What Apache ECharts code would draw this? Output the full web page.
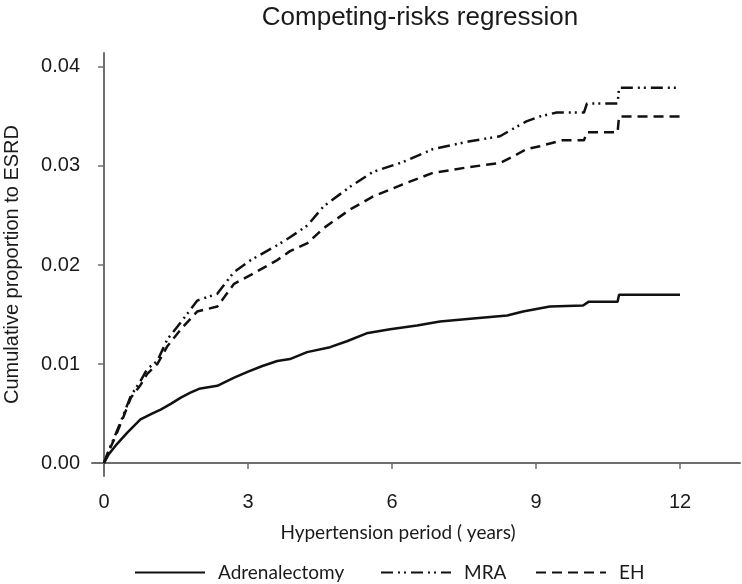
<!DOCTYPE html>
<html>
<head>
<meta charset="utf-8">
<script src="https://cdn.jsdelivr.net/npm/echarts@6/dist/echarts.min.js"></script>
<style>
html,body{margin:0;padding:0;background:#fff;}
#chart{width:742px;height:584px;}
</style>
</head>
<body>
<div id="chart"></div>
<script>
const seriesNames = ['Adrenalectomy', 'MRA', 'EH'];
const xTicks = [0, 3, 6, 9, 12];
const yTicks = [0, 0.01, 0.02, 0.03, 0.04];

const adrenalectomy = [[0,0],[0.1,0.0009],[0.25,0.0018],[0.49,0.0031],[0.76,0.0044],[1.0,0.0050],[1.18,0.0054],[1.4,0.0060],[1.6,0.0066],[1.8,0.0071],[1.98,0.0075],[2.36,0.0078],[2.7,0.0086],[2.99,0.0092],[3.3,0.0098],[3.61,0.0103],[3.875,0.0105],[4.23,0.0112],[4.71,0.0117],[5.06,0.0123],[5.47,0.0131],[5.96,0.0135],[6.52,0.0139],[7.0,0.0143],[7.69,0.0146],[8.4,0.0149],[8.73,0.0153],[9.29,0.0158],[9.98,0.0159],[10.1,0.0163],[10.7,0.0163],[10.73,0.0170],[12,0.0170]];

const mra = [[0,0],[0.1,0.0013],[0.25,0.0030],[0.4,0.0048],[0.56,0.0068],[0.75,0.0082],[0.9,0.0095],[1.11,0.0103],[1.32,0.0125],[1.6,0.0142],[1.94,0.0164],[2.36,0.0171],[2.71,0.0193],[3.06,0.0205],[3.61,0.0220],[3.875,0.0228],[4.24,0.0240],[4.57,0.0259],[5.125,0.0279],[5.6,0.0294],[6.23,0.0304],[6.85,0.0317],[7.625,0.0325],[8.25,0.0330],[8.5,0.0337],[8.8,0.0345],[9.08,0.0350],[9.43,0.0354],[10.0,0.0354],[10.06,0.0363],[10.7,0.0363],[10.73,0.0379],[12,0.0379]];

const eh = [[0,0],[0.1,0.0012],[0.25,0.0028],[0.4,0.0046],[0.56,0.0066],[0.75,0.0078],[0.9,0.0090],[1.11,0.0100],[1.32,0.0118],[1.6,0.0135],[1.94,0.0153],[2.36,0.0158],[2.71,0.0181],[3.06,0.0190],[3.61,0.0205],[3.875,0.0214],[4.24,0.0222],[4.57,0.0237],[5.125,0.0256],[5.6,0.0269],[6.2,0.0281],[6.85,0.0293],[7.625,0.0299],[8.25,0.0303],[8.5,0.0309],[8.8,0.0317],[9.08,0.0320],[9.56,0.0326],[10.0,0.0326],[10.06,0.0334],[10.7,0.0334],[10.73,0.0350],[12,0.0350]];

const chart = echarts.init(document.getElementById('chart'), null, {renderer: 'canvas'});
const axisColor = '#6e6e6e';
const textColor = '#1a1a1a';
const legendFont = {fontFamily: 'Lato, "Open Sans", sans-serif', fontSize: 19, color: textColor, padding: [0, 0, 0, 8]};

function mkLegend(name, left) {
  return {
    data: [name], left: left, top: 558, itemWidth: 70, itemHeight: 20, itemGap: 0,
    itemStyle: {opacity: 0},
    textStyle: legendFont, selectedMode: false
  };
}

chart.setOption({
  animation: false,
  backgroundColor: '#ffffff',
  title: {
    text: 'Competing-risks regression',
    left: 415, top: 0, textAlign: 'center',
    textStyle: {fontFamily: '"Liberation Sans", Arial, sans-serif', fontSize: 26, fontWeight: 'normal', color: textColor}
  },
  legend: [mkLegend(seriesNames[0], 129), mkLegend(seriesNames[1], 375), mkLegend(seriesNames[2], 530)],
  grid: {left: 92, top: 53, width: 648, height: 423, containLabel: false, outerBoundsMode: 'none'},
  xAxis: {
    type: 'value', min: -0.25, max: 13.25,
    name: 'Hypertension period ( years)', nameLocation: 'middle', nameGap: 47,
    nameTextStyle: {fontFamily: 'Lato, "Open Sans", sans-serif', fontSize: 19, color: textColor, padding: [0, 36, 0, 0]},
    axisLine: {lineStyle: {color: axisColor, width: 2}},
    axisTick: {show: true, length: 6, lineStyle: {color: axisColor, width: 1.5}, customValues: xTicks},
    axisLabel: {customValues: xTicks, margin: 16, fontFamily: '"Liberation Sans", Arial, sans-serif', fontSize: 20, color: textColor},
    splitLine: {show: false}
  },
  yAxis: {
    type: 'value', min: -0.00131, max: 0.04141,
    name: 'Cumulative proportion to ESRD', nameLocation: 'middle', nameGap: 70,
    nameTextStyle: {fontFamily: '"Liberation Sans", Arial, sans-serif', fontSize: 20, color: textColor},
    axisLine: {show: true, lineStyle: {color: axisColor, width: 2}},
    axisTick: {show: true, length: 6, lineStyle: {color: axisColor, width: 1.5}, customValues: yTicks},
    axisLabel: {customValues: yTicks, margin: 12, formatter: v => v.toFixed(2), fontFamily: '"Liberation Sans", Arial, sans-serif', fontSize: 20, color: textColor},
    splitLine: {show: false}
  },
  series: [
    {name: seriesNames[0], type: 'line', data: adrenalectomy, showSymbol: false, symbol: 'none', lineStyle: {color: '#111', width: 2.5, type: 'solid'}, itemStyle: {color: '#111'}},
    {name: seriesNames[1], type: 'line', data: mra, showSymbol: false, symbol: 'none', lineStyle: {color: '#111', width: 2.5, type: [12, 5, 2, 4, 2, 5]}, itemStyle: {color: '#111'}},
    {name: seriesNames[2], type: 'line', data: eh, showSymbol: false, symbol: 'none', lineStyle: {color: '#111', width: 2.5, type: [10, 6]}, itemStyle: {color: '#111'}}
  ]
});
</script>
</body>
</html>
